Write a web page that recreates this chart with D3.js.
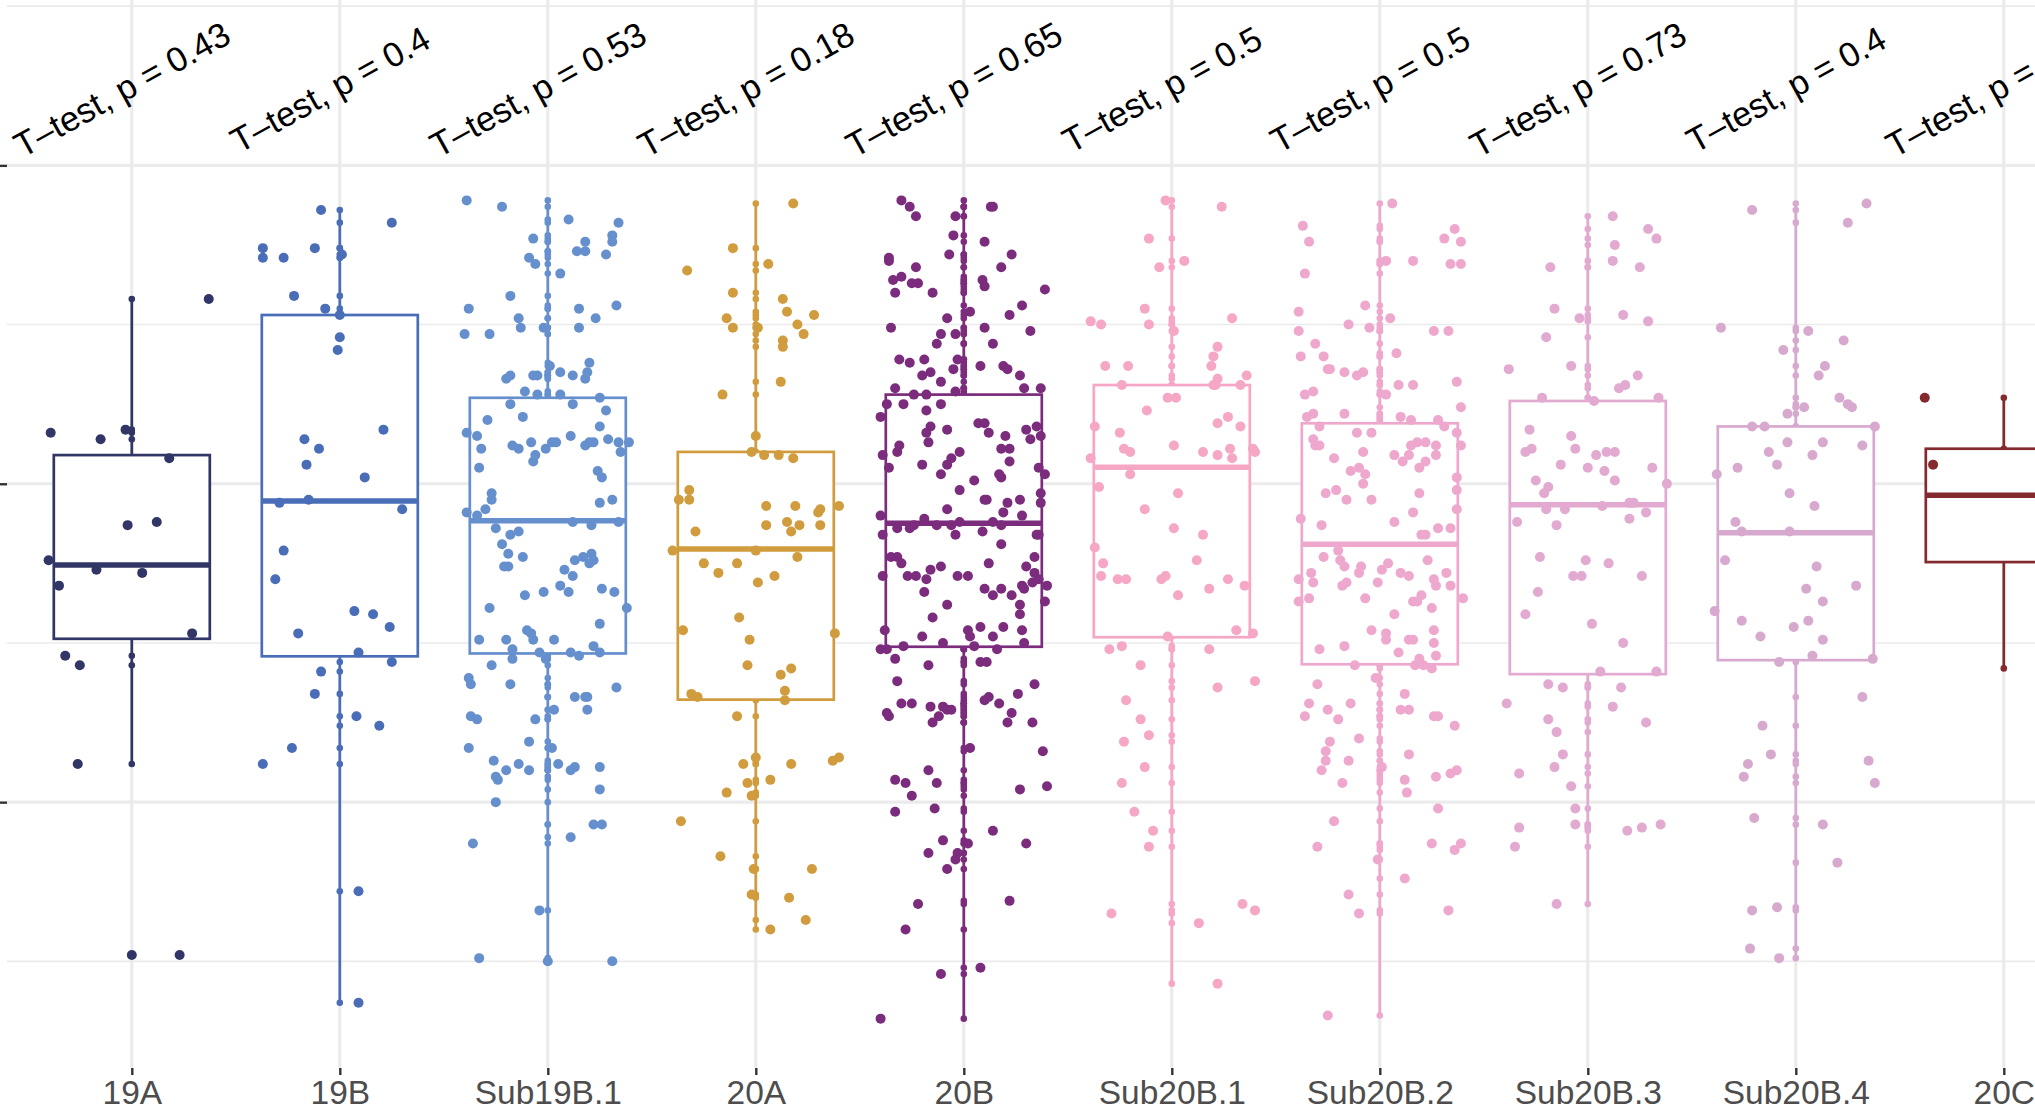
<!DOCTYPE html>
<html>
<head>
<meta charset="utf-8">
<script src="https://cdn.jsdelivr.net/npm/d3@7"></script>
<style>
  html, body { margin: 0; padding: 0; background: #fff; }
  svg { display: block; font-family: "Liberation Sans", Arial, Helvetica, sans-serif; }
</style>
</head>
<body>
<div id="chart"></div>
<script>
// categories and test labels
const groups = ["19A", "19B", "Sub19B.1", "20A", "20B", "Sub20B.1", "Sub20B.2", "Sub20B.3", "Sub20B.4", "20C"];
const pValues = ["0.43", "0.4", "0.53", "0.18", "0.65", "0.5", "0.5", "0.73", "0.4", "0.31"];

// box statistics
const whiskerHigh = [1.58, 1.86, 1.89, 1.88, 1.89, 1.89, 1.88, 1.84, 1.88, 1.27];
const upperQ     = [1.09, 1.53, 1.27, 1.10, 1.28, 1.31, 1.19, 1.26, 1.18, 1.11];
const medians    = [0.745, 0.946, 0.884, 0.795, 0.876, 1.052, 0.810, 0.934, 0.846, 0.964];
const lowerQ     = [0.513, 0.458, 0.467, 0.322, 0.488, 0.518, 0.433, 0.402, 0.446, 0.754];
const whiskerLow = [0.12, -0.63, -0.50, -0.40, -0.68, -0.57, -0.67, -0.32, -0.49, 0.42];

// y ticks (labels are cut off in the source)
const majorTicks = [0, 1, 2];
const minorTicks = [-0.5, 0.5, 1.5, 2.5];

// observations: [jitter (fraction of category step), value]
const pts19A = [[-0.39,1.16],[-0.15,1.14],[-0.03,1.17],[0.37,1.58],[0.18,1.08],[-0.02,0.87],[0.12,0.88],[-0.40,0.76],
  [-0.17,0.73],[-0.35,0.68],[0.05,0.72],[0.29,0.53],[-0.32,0.46],[-0.25,0.43],[-0.26,0.12],[0.23,-0.48]];

const pts19B = [[-0.09,1.86],[0.25,1.82],[-0.37,1.74],[-0.37,1.71],[-0.27,1.71],[-0.12,1.74],[0.01,1.72],[-0.22,1.59],
  [-0.07,1.55],[0.00,1.53],[0.00,1.46],[-0.01,1.42],[-0.17,1.14],[-0.10,1.11],[-0.16,1.06],[0.21,1.17],[0.12,1.02],
  [-0.29,0.94],[-0.15,0.95],[0.30,0.92],[-0.27,0.79],[-0.31,0.70],[0.07,0.60],[0.16,0.59],[0.24,0.55],[-0.20,0.53],
  [0.09,0.47],[0.25,0.44],[-0.09,0.41],[-0.12,0.34],[0.08,0.27],[0.19,0.24],[-0.23,0.17],[-0.37,0.12],[0.09,-0.28],[0.09,-0.63]];

const ptsSub19B1 = [[-0.39,1.89],[-0.22,1.87],[0.10,1.83],[0.34,1.82],[-0.07,1.77],[0.18,1.76],[0.31,1.78],[0.31,1.76],
  [0.14,1.73],[0.18,1.73],[0.28,1.72],[-0.09,1.71],[-0.06,1.69],[0.06,1.66],[-0.18,1.59],[-0.38,1.55],[0.15,1.55],
  [0.33,1.56],[-0.14,1.52],[0.23,1.52],[-0.40,1.47],[-0.28,1.47],[-0.13,1.49],[-0.02,1.49],[0.15,1.49],[0.20,1.38],
  [0.01,1.37],[-0.20,1.33],[-0.18,1.34],[-0.07,1.34],[-0.05,1.34],[0.06,1.35],[0.12,1.34],[0.18,1.33],[0.19,1.35],
  [-0.11,1.29],[-0.05,1.28],[0.06,1.28],[0.25,1.27],
  [-0.18,1.25],[0.12,1.25],[0.28,1.23],[-0.12,1.21],[-0.29,1.20],[-0.39,1.16],[-0.34,1.15],[0.25,1.18],[-0.17,1.12],
  [-0.14,1.11],[-0.08,1.13],[-0.01,1.11],[0.02,1.13],[0.04,1.13],[0.11,1.15],[0.18,1.12],[0.20,1.13],[0.22,1.13],
  [0.29,1.14],[0.34,1.13],[0.39,1.13],[-0.32,1.11],[0.35,1.10],[-0.06,1.09],[-0.07,1.07],[-0.33,1.05],[0.24,1.04],
  [0.26,1.02],[-0.27,0.97],[-0.27,0.95],[0.31,0.95],[0.25,0.94],[-0.30,0.92],[-0.39,0.91],[-0.34,0.90],[0.12,0.88],
  [0.21,0.87],[0.34,0.88],[-0.25,0.86],[-0.18,0.84],[-0.14,0.85],[-0.22,0.81],[-0.19,0.78],[-0.12,0.77],[0.13,0.76],
  [0.17,0.77],[0.21,0.78],[0.20,0.75],[0.22,0.76],[-0.21,0.74],[-0.19,0.74],[0.08,0.73],[0.12,0.71],[0.06,0.68],
  [0.10,0.66],[-0.02,0.66],[-0.11,0.65],[0.26,0.67],[0.32,0.66],[-0.28,0.61],[0.38,0.61],[0.25,0.56],[-0.10,0.54],
  [-0.08,0.53],[-0.33,0.51],[-0.20,0.51],[-0.07,0.51],[0.03,0.51],[0.22,0.49],[-0.17,0.48],[-0.17,0.45],[-0.04,0.47],
  [0.11,0.47],[0.15,0.46],[0.25,0.47],[-0.01,0.45],
  [-0.27,0.43],[-0.38,0.39],[-0.37,0.37],[-0.18,0.37],[0.13,0.33],[0.18,0.33],[0.19,0.33],[0.33,0.36],[-0.37,0.27],
  [-0.34,0.26],[-0.06,0.26],[0.03,0.29],[0.19,0.29],[-0.09,0.19],[-0.38,0.17],[0.02,0.17],[-0.26,0.13],[-0.14,0.12],
  [0.05,0.12],[-0.25,0.08],[-0.24,0.07],[-0.20,0.10],[-0.09,0.10],[0.11,0.10],[0.13,0.11],[0.25,0.11],[0.25,0.04],
  [-0.25,0.00],[-0.36,-0.13],[0.11,-0.11],[0.22,-0.07],[0.26,-0.07],[-0.04,-0.34],[-0.33,-0.49],[0.31,-0.50],[0.00,-0.50]];

const pts20A = [[0.18,1.88],[-0.11,1.74],[-0.33,1.67],[0.06,1.69],[-0.11,1.60],[0.13,1.58],[0.15,1.54],[-0.14,1.52],
  [0.28,1.53],[-0.11,1.49],[0.01,1.49],[0.20,1.50],[0.23,1.47],[0.13,1.45],[0.13,1.43],[0.12,1.32],[-0.16,1.28],
  [0.00,1.15],[-0.02,1.10],[0.04,1.09],[0.11,1.09],[0.18,1.08],[-0.32,0.98],[-0.37,0.95],[-0.32,0.95],[0.05,0.93],
  [0.19,0.93],[0.30,0.91],[0.31,0.92],[0.40,0.93],[0.15,0.88],[0.21,0.87],[0.05,0.87],[0.31,0.87],[0.17,0.85],
  [-0.29,0.85],[-0.40,0.79],[0.00,0.79],[0.20,0.77],[-0.25,0.75],[-0.09,0.75],[-0.18,0.72],[0.09,0.71],[0.01,0.69],
  [-0.08,0.58],[-0.35,0.54],[0.38,0.53],[-0.03,0.51],[-0.04,0.43],[0.17,0.42],[0.12,0.40],[0.14,0.35],[-0.31,0.34],
  [-0.28,0.33],[0.14,0.32],[-0.09,0.27],[-0.06,0.12],[0.00,0.14],[0.17,0.12],[0.37,0.13],[0.40,0.14],[-0.04,0.06],
  [0.07,0.07],[-0.14,0.03],[-0.02,0.02],[-0.36,-0.06],[-0.17,-0.17],[-0.01,-0.21],[0.27,-0.21],[-0.02,-0.29],
  [0.16,-0.30],[0.24,-0.37],[0.07,-0.40]];

const pts20B = [[-0.30,1.89],[-0.26,1.87],[-0.23,1.84],[0.13,1.87],[0.14,1.87],[-0.04,1.84],[-0.05,1.78],[0.10,1.76],
  [-0.07,1.72],[0.23,1.72],[-0.36,1.71],[-0.36,1.70],[0.18,1.68],[-0.23,1.68],[-0.34,1.64],[-0.30,1.65],[-0.25,1.63],
  [-0.22,1.63],[0.09,1.64],[0.10,1.62],[-0.33,1.60],[-0.15,1.60],[0.39,1.61],[0.28,1.56],[0.03,1.54],[0.22,1.53],
  [-0.08,1.52],[-0.35,1.49],[0.10,1.49],[0.32,1.48],[-0.11,1.47],[-0.04,1.47],[-0.13,1.44],[0.14,1.44],[-0.31,1.39],
  [-0.26,1.38],[-0.19,1.39],[-0.03,1.39],[0.08,1.37],[0.19,1.37],[0.21,1.36],[-0.20,1.34],[-0.16,1.35],[-0.05,1.36],
  [-0.11,1.32],[0.27,1.34],[-0.33,1.30],[0.29,1.30],[0.37,1.30],[-0.04,1.29],
  [-0.37,1.25],[-0.29,1.25],[-0.24,1.28],[-0.18,1.28],[-0.11,1.25],[-0.18,1.23],[-0.40,1.21],[0.07,1.19],[0.10,1.19],
  [0.12,1.16],[-0.16,1.18],[-0.18,1.16],[-0.08,1.17],[0.30,1.17],[0.35,1.18],[-0.31,1.12],[-0.32,1.10],[-0.17,1.13],
  [0.20,1.15],[0.37,1.15],[0.32,1.14],[-0.39,1.09],[-0.06,1.08],[-0.02,1.10],[0.18,1.11],[0.22,1.11],[0.22,1.07],
  [-0.36,1.05],[-0.20,1.06],[-0.08,1.06],[0.36,1.05],[0.39,1.03],[-0.11,1.03],[0.05,1.01],[0.18,1.02],[0.17,1.03],
  [-0.02,0.98],[0.10,0.95],[0.11,0.95],[0.21,0.94],[0.27,0.95],[-0.08,0.92],[0.19,0.91],[0.28,0.90],[0.37,0.97],
  [0.37,0.94],[-0.40,0.90],[-0.39,0.84],[-0.32,0.86],[-0.26,0.86],[-0.24,0.87],[-0.19,0.89],[-0.13,0.87],[-0.06,0.87],
  [-0.02,0.88],[0.09,0.85],[-0.04,0.84],[0.14,0.88],[0.18,0.87],[0.35,0.84],[0.36,0.84],[0.18,0.81],[-0.35,0.77],
  [-0.32,0.77],[-0.30,0.75],[0.12,0.75],[0.34,0.77],[0.30,0.74],[-0.39,0.71],[-0.27,0.71],[-0.23,0.71],[-0.16,0.73],
  [-0.11,0.74],[-0.03,0.71],[0.02,0.71],[0.34,0.72],[-0.18,0.70],[-0.19,0.66],[0.10,0.67],[0.14,0.65],[0.18,0.67],
  [0.23,0.65],[0.28,0.68],[0.29,0.67],[0.33,0.69],[0.36,0.70],[0.40,0.68],[-0.08,0.62],[0.39,0.63],[0.27,0.62],
  [0.27,0.59],[-0.15,0.58],[-0.38,0.54],[-0.20,0.52],[-0.10,0.50],[0.02,0.54],[0.03,0.52],[0.08,0.55],[0.14,0.52],
  [0.19,0.55],[0.28,0.54],[0.29,0.50],[-0.29,0.49],[-0.40,0.48],[-0.37,0.48],[0.05,0.49],[0.16,0.48],
  [-0.33,0.45],[0.08,0.44],[0.11,0.44],[-0.17,0.43],[-0.32,0.38],[0.34,0.37],[-0.30,0.31],[-0.25,0.31],[-0.16,0.30],
  [-0.10,0.30],[-0.12,0.27],[-0.08,0.29],[-0.06,0.29],[0.10,0.32],[0.12,0.33],[0.17,0.31],[0.26,0.34],[-0.36,0.27],
  [-0.37,0.28],[0.23,0.28],[-0.15,0.25],[0.21,0.25],[0.33,0.25],[0.38,0.16],[0.03,0.17],[-0.17,0.10],[-0.33,0.07],
  [-0.28,0.06],[-0.13,0.06],[-0.25,0.02],[0.27,0.04],[0.40,0.05],[-0.33,-0.03],[-0.14,-0.02],[0.14,-0.09],
  [-0.10,-0.12],[0.30,-0.13],[0.02,-0.13],[-0.17,-0.16],[-0.03,-0.16],[-0.04,-0.18],[-0.08,-0.21],[-0.22,-0.32],
  [0.22,-0.31],[-0.28,-0.40],[-0.11,-0.54],[0.08,-0.52],[-0.40,-0.68]];

const ptsSub20B1 = [[-0.03,1.89],[0.24,1.87],[-0.11,1.77],[-0.06,1.68],[0.06,1.70],[-0.13,1.55],[-0.11,1.50],[0.29,1.52],
  [-0.39,1.51],[-0.34,1.50],[0.01,1.48],[0.22,1.43],[0.20,1.40],[0.19,1.37],[-0.32,1.37],[-0.21,1.37],[-0.24,1.31],
  [0.22,1.33],[0.21,1.31],[0.20,1.31],[0.33,1.31],[0.36,1.34],[-0.02,1.27],[0.02,1.27],[-0.12,1.23],[0.22,1.19],
  [0.27,1.21],[0.33,1.18],[-0.37,1.18],[-0.25,1.16],[0.01,1.12],[-0.23,1.11],[-0.20,1.10],[-0.39,1.08],[0.15,1.10],
  [0.22,1.09],[0.28,1.11],[0.29,1.08],[0.39,1.11],[0.40,1.10],[-0.20,1.03],[-0.35,0.99],[0.03,0.97],[-0.13,0.92],
  [0.01,0.86],[0.15,0.84],[-0.37,0.80],[-0.33,0.75],[0.12,0.76],[-0.34,0.71],[-0.26,0.70],[-0.22,0.70],[-0.05,0.70],
  [-0.03,0.71],[0.03,0.65],[0.18,0.67],[0.27,0.70],[0.35,0.68],[0.31,0.54],[0.39,0.53],[-0.02,0.52],[-0.30,0.48],
  [-0.24,0.49],[0.18,0.48],[-0.15,0.43],[0.40,0.38],[0.22,0.36],[-0.22,0.32],[-0.15,0.26],[-0.11,0.21],[-0.23,0.19],
  [-0.13,0.11],[-0.24,0.06],[-0.18,-0.03],[-0.09,-0.09],[-0.11,-0.14],[-0.29,-0.35],[0.34,-0.32],[0.40,-0.34],
  [0.13,-0.38],[0.22,-0.57]];

const ptsSub20B2 = [[0.06,1.88],[-0.37,1.81],[-0.34,1.76],[0.31,1.77],[0.36,1.80],[0.39,1.76],[0.03,1.70],[0.16,1.70],
  [0.34,1.69],[0.39,1.69],[-0.36,1.66],[-0.07,1.56],[-0.39,1.54],[0.05,1.52],[-0.39,1.48],[-0.15,1.50],[-0.05,1.49],
  [0.26,1.48],[0.33,1.48],[-0.31,1.44],[-0.38,1.40],[-0.27,1.40],[0.08,1.41],[-0.25,1.36],[-0.24,1.36],[-0.17,1.35],
  [-0.11,1.34],[-0.08,1.35],[-0.36,1.28],[-0.32,1.29],[0.03,1.28],[0.09,1.31],[0.16,1.31],[0.37,1.32],[-0.17,1.22],
  [-0.32,1.22],[-0.35,1.21],[0.10,1.21],[0.15,1.20],[0.28,1.20],[0.31,1.18],[0.39,1.24],
  [-0.29,1.18],[-0.11,1.16],[-0.04,1.16],[-0.32,1.14],[-0.31,1.12],[-0.29,1.12],[0.18,1.13],[0.22,1.13],[0.27,1.12],
  [0.15,1.12],[0.37,1.16],[0.39,1.12],[-0.08,1.10],[-0.22,1.08],[0.07,1.09],[0.14,1.09],[0.11,1.07],[0.22,1.07],
  [0.27,1.09],[-0.14,1.04],[-0.10,1.05],[-0.07,1.03],[0.19,1.05],[-0.08,1.00],[-0.26,0.97],[-0.21,0.98],[0.37,1.02],
  [0.37,0.98],[0.19,0.97],[-0.16,0.95],[-0.04,0.95],[0.37,0.92],[-0.38,0.89],[-0.28,0.87],[0.07,0.88],[0.16,0.91],
  [0.20,0.84],[0.22,0.84],[0.28,0.86],[0.34,0.86],[-0.27,0.77],[-0.20,0.79],[-0.19,0.76],[-0.17,0.74],[-0.09,0.74],
  [-0.10,0.72],[0.01,0.73],[0.04,0.75],[0.10,0.72],[0.14,0.71],[0.23,0.76],[0.26,0.70],[0.27,0.68],[0.32,0.72],
  [0.34,0.68],[-0.39,0.70],[-0.33,0.72],[-0.32,0.69],[-0.18,0.68],[-0.16,0.69],[-0.01,0.69],[-0.39,0.63],[-0.34,0.64],
  [-0.07,0.64],[0.16,0.63],[0.18,0.63],[0.20,0.65],[0.25,0.61],[0.40,0.64],[0.07,0.59],[-0.04,0.54],[0.03,0.53],
  [0.03,0.51],[0.14,0.51],[0.16,0.51],[0.26,0.54],[-0.29,0.48],[-0.17,0.49],[0.09,0.47],[0.26,0.50],[0.27,0.46],
  [0.17,0.43],[0.19,0.45],[0.21,0.43],[0.25,0.42],[-0.12,0.43],
  [-0.02,0.39],[-0.30,0.37],[0.12,0.34],[-0.34,0.31],[-0.14,0.31],[-0.36,0.27],[-0.25,0.29],[-0.20,0.26],[0.10,0.29],
  [0.14,0.29],[0.26,0.27],[0.28,0.27],[0.36,0.24],[-0.10,0.20],[-0.24,0.19],[-0.26,0.16],[-0.26,0.13],[-0.15,0.13],
  [-0.28,0.10],[0.01,0.11],[0.14,0.15],[0.37,0.10],[0.34,0.09],[0.27,0.08],[0.12,0.07],[0.13,0.03],[-0.18,0.06],
  [-0.22,-0.06],[0.28,-0.02],[-0.30,-0.14],[0.25,-0.13],[0.36,-0.15],[0.39,-0.13],[-0.01,-0.18],[0.12,-0.24],
  [-0.15,-0.29],[-0.10,-0.35],[0.33,-0.34],[-0.25,-0.67]];

const ptsSub20B3 = [[0.12,1.84],[0.29,1.80],[0.33,1.77],[0.13,1.75],[0.12,1.70],[-0.18,1.68],[0.25,1.68],[-0.16,1.55],
  [-0.04,1.52],[0.17,1.53],[0.29,1.51],[-0.20,1.46],[-0.08,1.37],[-0.38,1.36],[0.24,1.34],[0.18,1.31],[0.15,1.30],
  [-0.22,1.27],[0.03,1.26],[0.34,1.27],
  [-0.28,1.17],[-0.08,1.15],[-0.06,1.11],[-0.30,1.10],[-0.27,1.11],[0.04,1.09],[0.09,1.10],[0.13,1.10],[-0.13,1.06],
  [0.00,1.05],[0.08,1.04],[0.13,1.01],[0.31,1.05],[-0.25,1.01],[-0.19,0.99],[-0.21,0.97],[0.38,1.00],[-0.20,0.92],
  [-0.11,0.92],[0.07,0.93],[0.20,0.94],[0.22,0.94],[0.28,0.91],[-0.34,0.88],[-0.15,0.87],[0.20,0.89],[-0.23,0.77],
  [-0.01,0.76],[0.10,0.75],[-0.07,0.71],[-0.03,0.71],[0.26,0.71],[-0.24,0.66],[-0.30,0.59],[0.02,0.56],[0.17,0.50],
  [0.06,0.41],[0.33,0.41],
  [-0.19,0.37],[-0.12,0.36],[0.16,0.36],[-0.39,0.31],[0.12,0.30],[-0.19,0.26],[-0.15,0.22],[0.28,0.25],[-0.12,0.15],
  [-0.16,0.11],[-0.33,0.09],[-0.08,0.05],[-0.06,-0.02],[-0.06,-0.07],[0.19,-0.09],[0.26,-0.08],[0.35,-0.07],
  [-0.33,-0.08],[-0.35,-0.14],[-0.15,-0.32]];

const ptsSub20B4 = [[-0.21,1.86],[0.34,1.88],[0.25,1.82],[-0.36,1.49],[0.06,1.48],[0.23,1.45],[-0.06,1.42],[0.14,1.37],
  [0.11,1.34],[0.21,1.27],[0.25,1.25],[0.27,1.24],[0.04,1.24],[-0.04,1.22],[-0.21,1.18],[-0.15,1.18],[0.38,1.18],
  [-0.04,1.13],[0.13,1.13],[-0.13,1.10],[0.32,1.12],[0.08,1.09],[-0.09,1.06],[-0.28,1.05],[-0.38,1.03],[-0.03,0.97],
  [0.09,0.93],[-0.29,0.88],[-0.26,0.85],[-0.03,0.85],[-0.34,0.76],[0.10,0.74],[0.05,0.67],[0.29,0.68],[0.13,0.63],
  [-0.39,0.60],[-0.26,0.57],[-0.01,0.55],[0.06,0.57],[-0.17,0.52],[0.13,0.51],[0.08,0.46],[0.37,0.45],[-0.08,0.44],
  [0.32,0.33],[-0.16,0.24],[-0.12,0.15],[-0.23,0.12],[-0.25,0.08],[0.35,0.13],[0.38,0.06],[-0.20,-0.05],[0.13,-0.07],
  [0.20,-0.19],[-0.21,-0.34],[-0.09,-0.33],[-0.22,-0.46],[-0.08,-0.49]];

const pts20C = [[-0.38,1.27],[-0.34,1.06],[0.30,0.42],[0.22,0.96],[0.27,0.78],[0.33,1.11]];

const groupPoints = [pts19A, pts19B, ptsSub19B1, pts20A, pts20B, ptsSub20B1, ptsSub20B2, ptsSub20B3, ptsSub20B4, pts20C];
const palette = ["#313667", "#4A6DB8", "#6690CD", "#D19C3D", "#7B2C7D", "#F6A7C5", "#EEA8CE", "#E2A9D1", "#D8A9CF", "#842A2E"];

const width = 2035, height = 1111;
const panel = { left: 7, top: -40, bottom: 1068 };
const step = 208;

const svg = d3.select("#chart").append("svg")
  .attr("width", width)
  .attr("height", height);

const x = d3.scalePoint()
  .domain(groups)
  .range([panel.left + 0.6 * step, panel.left + 0.6 * step + (groups.length - 1) * step]);

const y = d3.scaleLinear()
  .domain([-0.835, 2.645])
  .range([panel.bottom, panel.top]);

const boxW = 0.75 * step;

// grid
const grid = svg.append("g");
grid.selectAll("line.minor").data(minorTicks).enter().append("line")
  .attr("x1", panel.left).attr("x2", width)
  .attr("y1", d => y(d)).attr("y2", d => y(d))
  .attr("stroke", "#EBEBEB").attr("stroke-width", 1.6);
grid.selectAll("line.major").data(majorTicks).enter().append("line")
  .attr("x1", panel.left).attr("x2", width)
  .attr("y1", d => y(d)).attr("y2", d => y(d))
  .attr("stroke", "#EBEBEB").attr("stroke-width", 3.2);
grid.selectAll("line.vert").data(groups).enter().append("line")
  .attr("x1", d => x(d)).attr("x2", d => x(d))
  .attr("y1", panel.top).attr("y2", panel.bottom)
  .attr("stroke", "#EBEBEB").attr("stroke-width", 3.2);

// axes (ticks only on y, labels on x)
const yAxis = d3.axisLeft(y).tickValues(majorTicks).tickSize(7).tickFormat("");
svg.append("g")
  .attr("transform", `translate(${panel.left},0)`)
  .call(yAxis)
  .call(g => g.select(".domain").remove())
  .call(g => g.selectAll(".tick line").attr("stroke", "#333333").attr("stroke-width", 2.4));

const xAxis = d3.axisBottom(x).tickSize(7).tickPadding(5);
svg.append("g")
  .attr("transform", `translate(0,${panel.bottom})`)
  .call(xAxis)
  .call(g => g.select(".domain").remove())
  .call(g => g.selectAll(".tick line").attr("stroke", "#333333").attr("stroke-width", 2.4))
  .call(g => g.selectAll(".tick text")
    .attr("fill", "#4D4D4D")
    .attr("font-size", 33.5)
    .attr("font-family", "Liberation Sans, Arial, sans-serif"));

// boxes
groups.forEach((g, i) => {
  const cx = x(g);
  const col = palette[i];
  const pts = groupPoints[i];
  const layer = svg.append("g").attr("class", "group");

  // raw values at the centre line
  layer.selectAll("circle.raw").data(pts).enter().append("circle")
    .attr("cx", cx).attr("cy", d => y(d[1])).attr("r", 3.3)
    .attr("fill", col);

  layer.append("line")
    .attr("x1", cx).attr("x2", cx)
    .attr("y1", y(upperQ[i])).attr("y2", y(whiskerHigh[i]))
    .attr("stroke", col).attr("stroke-width", 2.7);
  layer.append("line")
    .attr("x1", cx).attr("x2", cx)
    .attr("y1", y(lowerQ[i])).attr("y2", y(whiskerLow[i]))
    .attr("stroke", col).attr("stroke-width", 2.7);

  layer.append("rect")
    .attr("x", cx - boxW / 2).attr("width", boxW)
    .attr("y", y(upperQ[i])).attr("height", y(lowerQ[i]) - y(upperQ[i]))
    .attr("fill", "#fff").attr("stroke", col).attr("stroke-width", 2.7);

  layer.append("line")
    .attr("x1", cx - boxW / 2).attr("x2", cx + boxW / 2)
    .attr("y1", y(medians[i])).attr("y2", y(medians[i]))
    .attr("stroke", col).attr("stroke-width", 5.4);

  // outliers
  const outl = pts.filter(d => d[1] < whiskerLow[i] - 0.01 || d[1] > whiskerHigh[i] + 0.01);
  layer.selectAll("circle.out").data(outl).enter().append("circle")
    .attr("cx", cx).attr("cy", d => y(d[1])).attr("r", 5)
    .attr("fill", col);

  // jittered points
  layer.selectAll("circle.jit").data(pts).enter().append("circle")
    .attr("cx", d => cx + d[0] * step).attr("cy", d => y(d[1])).attr("r", 5)
    .attr("fill", col);
});

// test annotations
svg.append("g").selectAll("text").data(groups).enter().append("text")
  .attr("transform", d => `translate(${x(d) - 4},100) rotate(-29)`)
  .attr("text-anchor", "middle")
  .attr("font-size", 34.5)
  .attr("fill", "#000")
  .text((d, i) => `T\u2013test, p = ${pValues[i]}`);
</script>
</body>
</html>
